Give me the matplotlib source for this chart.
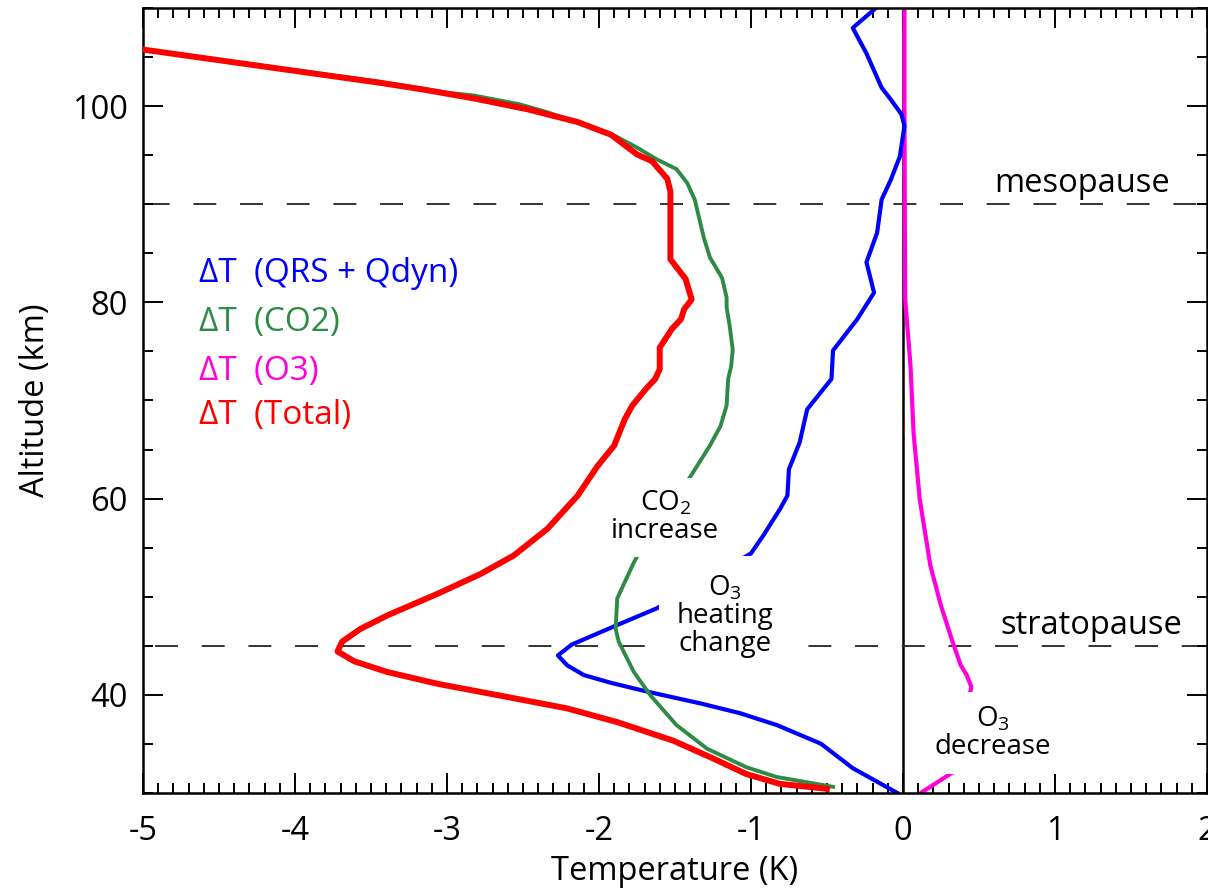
import matplotlib
matplotlib.use('Agg')
import matplotlib.pyplot as plt
from matplotlib.ticker import MultipleLocator

plt.rcParams['font.family'] = ['Open Sans', 'DejaVu Sans']
plt.rcParams['mathtext.fontset'] = 'custom'
plt.rcParams['mathtext.rm'] = 'Open Sans'
plt.rcParams['mathtext.default'] = 'regular'
plt.rcParams['axes.unicode_minus'] = False

# temperature change profiles (K) vs altitude (km)
total_z = [30.4, 30.9, 31.9, 33.5, 35.3, 37.2, 38.6, 39.9, 41.1, 42.3, 43.4, 44.4,
           45.4, 46.7, 48.1, 50.3, 52.3, 54.2, 56.9, 60.3, 63.3, 65.4, 68.1, 69.5,
           71.2, 72.2, 73.2, 75.4, 77.3, 78.3, 79.3, 80.3, 82.4, 83.0, 84.4, 86.4,
           89.2, 91.3, 92.6, 94.4, 95.1, 97.1, 98.4, 99.7, 100.8, 101.7, 102.4, 105.9]
total_T = [-0.50, -0.81, -1.03, -1.25, -1.51, -1.88, -2.21, -2.65, -3.06, -3.39, -3.61, -3.72,
           -3.69, -3.57, -3.39, -3.06, -2.78, -2.56, -2.34, -2.14, -2.01, -1.90, -1.83, -1.78,
           -1.69, -1.63, -1.60, -1.60, -1.52, -1.46, -1.44, -1.39, -1.43, -1.46, -1.53, -1.53,
           -1.53, -1.53, -1.55, -1.65, -1.75, -1.92, -2.14, -2.47, -2.82, -3.15, -3.44, -5.05]

co2_z = [30.6, 31.6, 32.6, 34.5, 36.9, 39.9, 42.3, 45.4, 46.7, 49.8, 53.5, 57.4,
         62.2, 65.4, 67.4, 69.5, 72.2, 73.5, 75.2, 77.6, 79.5, 80.5, 82.5, 84.6,
         86.6, 90.5, 92.2, 93.6, 94.6, 95.8, 97.2, 99.4, 100.2, 101.1, 101.4, 102.5, 105.8]
co2_T = [-0.46, -0.83, -1.03, -1.29, -1.49, -1.66, -1.77, -1.87, -1.89, -1.88, -1.77, -1.63,
         -1.40, -1.27, -1.20, -1.16, -1.15, -1.13, -1.12, -1.14, -1.16, -1.16, -1.19, -1.27,
         -1.31, -1.37, -1.42, -1.49, -1.62, -1.75, -1.92, -2.34, -2.52, -2.82, -3.00, -3.44, -5.00]

qrs_z = [30.0, 32.5, 35.0, 36.9, 38.1, 39.1, 40.3, 41.2, 42.0, 43.0, 44.0, 45.1,
         47.1, 48.8, 54.4, 56.2, 58.9, 60.3, 63.0, 65.7, 69.1, 72.2, 75.1, 78.3,
         81.0, 84.1, 87.1, 90.5, 92.5, 94.9, 98.0, 99.2, 100.7, 101.9, 105.4, 108.0, 110.0]
qrs_T = [-0.04, -0.33, -0.54, -0.83, -1.07, -1.33, -1.68, -1.92, -2.10, -2.21, -2.27, -2.18,
         -1.88, -1.62, -1.00, -0.92, -0.81, -0.76, -0.75, -0.68, -0.63, -0.47, -0.46, -0.30,
         -0.19, -0.24, -0.17, -0.14, -0.08, -0.02, 0.01, -0.01, -0.08, -0.14, -0.24, -0.33, -0.18]

o3_z = [30.0, 31.3, 32.2, 40.8, 42.0, 43.0, 45.7, 49.1, 53.2, 60.0, 66.7, 73.5, 80.3, 90.0, 100.0, 110.0]
o3_T = [0.12, 0.25, 0.34, 0.45, 0.42, 0.38, 0.32, 0.25, 0.18, 0.11, 0.07, 0.05, 0.015, 0.012, 0.01, 0.01]

blue = '#0000FF'
green = '#2E8B45'
magenta = '#FF00DD'
red = '#FF0000'

fig = plt.figure(figsize=(12.08, 8.88), dpi=100)
ax = fig.add_axes([143 / 1208, 1 - 792.7 / 888, (1206.9 - 143) / 1208, (792.7 - 8.3) / 888])

ax.axvline(0, color='black', lw=1.8, zorder=1)
ax.axhline(90, color='#333333', lw=1.4, ls=(22.1, (11.8, 12.2)), zorder=1)
ax.axhline(45, color='#333333', lw=1.4, ls=(17.8, (11.8, 12.2)), zorder=1)

ax.plot(o3_T, o3_z, color=magenta, lw=3.0, zorder=2)
ax.plot(qrs_T, qrs_z, color=blue, lw=3.0, zorder=2)
ax.plot(co2_T, co2_z, color=green, lw=2.8, zorder=3)
ax.plot(total_T, total_z, color=red, lw=4.3, zorder=4)

ax.set_xlim(-5, 2)
ax.set_ylim(30, 110)
ax.xaxis.set_major_locator(MultipleLocator(1))
ax.xaxis.set_minor_locator(MultipleLocator(0.1))
ax.yaxis.set_major_locator(MultipleLocator(20))
ax.yaxis.set_minor_locator(MultipleLocator(5))
ax.tick_params(which='both', direction='in', top=True, right=True, width=1.4, labelsize=23.5)
ax.tick_params(which='major', length=14.4)
ax.tick_params(which='minor', length=7.2)
ax.tick_params(axis='x', pad=16)
ax.tick_params(axis='y', pad=11)
for s in ax.spines.values():
    s.set_linewidth(1.8)

ax.set_xlabel('Temperature (K)', fontsize=23.5, labelpad=5)
ax.set_ylabel('Altitude (km)', fontsize=23.5, labelpad=14)

# legend as coloured text
ax.text(-4.63, 82.1, 'ΔT  (QRS + Qdyn)', color=blue, fontsize=24, va='baseline')
ax.text(-4.63, 77.1, 'ΔT  (CO2)', color=green, fontsize=24, va='baseline')
ax.text(-4.63, 72.1, 'ΔT  (O3)', color=magenta, fontsize=24, va='baseline')
ax.text(-4.63, 67.6, 'ΔT  (Total)', color=red, fontsize=24, va='baseline')

ax.text(1.18, 91.3, 'mesopause', fontsize=23.5, ha='center', va='baseline')
ax.text(1.24, 46.2, 'stratopause', fontsize=23.5, ha='center', va='baseline')

ax.text(-1.563, 58.1, 'CO$_2$\nincrease', fontsize=20, ha='center', va='center', linespacing=1.0,
        bbox=dict(facecolor='white', edgecolor='none', boxstyle='square,pad=0.4'), zorder=6)
ax.text(-1.168, 48.0, 'O$_3$\nheating\nchange', fontsize=20, ha='center', va='center', linespacing=1.0,
        bbox=dict(facecolor='white', edgecolor='none', boxstyle='square,pad=0.65'), zorder=6)
ax.text(0.594, 36.1, 'O$_3$\ndecrease', fontsize=20, ha='center', va='center', linespacing=1.0,
        bbox=dict(facecolor='white', edgecolor='none', boxstyle='square,pad=0.45'), zorder=6)

fig.savefig('out.png', dpi=100)
